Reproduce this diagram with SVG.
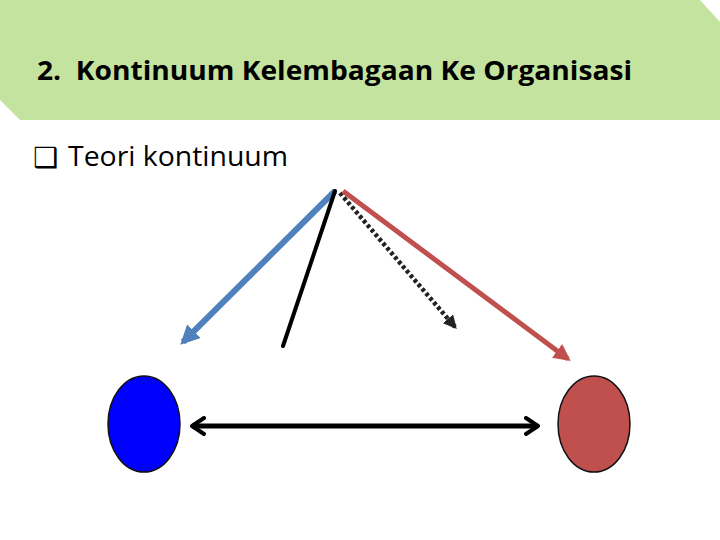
<svg xmlns="http://www.w3.org/2000/svg" width="720" height="540" viewBox="0 0 720 540">
<style>
.t{font-family:"Open Sans","Liberation Sans",sans-serif;fill:#000;white-space:pre}
</style>
<defs>
<marker id="mb" viewBox="0 0 10 10" refX="8" refY="5" markerWidth="3.2" markerHeight="3.2" orient="auto"><path d="M0,0 L10,5 L0,10 z" fill="#4F81BD"/></marker>
<marker id="mr" viewBox="0 0 10 10" refX="8" refY="5" markerWidth="3.4" markerHeight="3.4" orient="auto"><path d="M0,0 L10,5 L0,10 z" fill="#C0504D"/></marker>
<marker id="mk" viewBox="0 0 10 10" refX="8" refY="5" markerWidth="3" markerHeight="3" orient="auto"><path d="M0,0 L10,5 L0,10 z" fill="#222"/></marker>
<marker id="mc" viewBox="0 0 10 10" refX="9" refY="5" markerWidth="4" markerHeight="4" orient="auto-start-reverse"><path d="M3,1 L9,5 L3,9" fill="none" stroke="#000" stroke-width="2" stroke-linecap="round" stroke-linejoin="round"/></marker>
</defs>
<rect width="720" height="540" fill="#fff"/>
<g id="header">
<polygon points="0,0 700,0 720,22 720,120 20,120 0,100" fill="#C3E39E"/>
<text class="t" x="37" y="80" font-size="27" font-weight="bold" textLength="595" lengthAdjust="spacingAndGlyphs" xml:space="preserve">2.  Kontinuum Kelembagaan Ke Organisasi</text>
</g>
<g id="bullet">
<text x="33" y="167" font-family="DejaVu Sans,sans-serif" font-size="28">❑</text>
<text class="t" x="68" y="166" font-size="27" textLength="220" lengthAdjust="spacingAndGlyphs">Teori kontinuum</text>
</g>
<g id="connectors">
<line x1="335" y1="191" x2="183" y2="342" stroke="#4F81BD" stroke-width="6" marker-end="url(#mb)"/>
<line x1="335" y1="191" x2="283" y2="346" stroke="#000" stroke-width="4" stroke-linecap="round"/>
<line x1="340" y1="193" x2="455" y2="327" stroke="#222" stroke-width="4.5" stroke-dasharray="3.5,2.5" marker-end="url(#mk)"/>
<line x1="343" y1="191" x2="568" y2="359" stroke="#C0504D" stroke-width="5" marker-end="url(#mr)"/>
<line x1="192" y1="426" x2="538" y2="426" stroke="#000" stroke-width="5" marker-start="url(#mc)" marker-end="url(#mc)"/>
</g>
<g id="node-blue">
<ellipse cx="144" cy="424" rx="36" ry="48" fill="#0000FF" stroke="#111" stroke-width="1.5"/>
</g>
<g id="node-red">
<ellipse cx="594" cy="424" rx="36" ry="48" fill="#C0504D" stroke="#111" stroke-width="1.5"/>
</g>
</svg>
